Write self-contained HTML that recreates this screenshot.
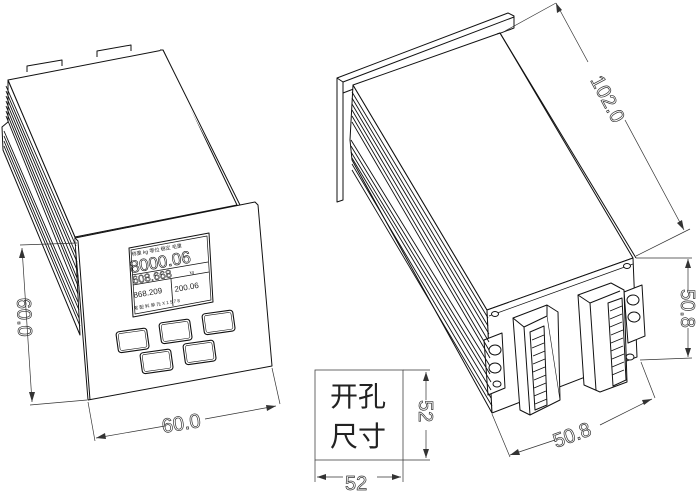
<!DOCTYPE html>
<html><head><meta charset="utf-8"><style>
html,body{margin:0;padding:0;background:#fff}
svg{display:block}
text{font-family:"Liberation Sans","Noto Sans CJK SC",sans-serif;fill:#222}
</style></head><body>
<svg width="697" height="492" viewBox="0 0 697 492" xmlns="http://www.w3.org/2000/svg">
<g fill="#fff" stroke="#111" stroke-width="1" stroke-linejoin="round">
<path d="M27,72 L27,66 L62,60 L62,66"/>
<path d="M97,57 L97,51 L131,45 L131,51"/>
<path d="M8,80 L75,237 L80,335 L3,150 L2,127 L8,122 Z"/>
<path d="M8,80 L163,50 L237,205 L75,237 Z"/>
<path d="M160,50 L163,50 L240,205"/>
<path d="M75,238 L255,202 L258,205 L272,366 L88,400 Z"/>
<path d="M75,238 L78,241 L90,400"/>
<path d="M129,248 L209,233 L213,302 L133,317 Z"/>
<path d="M131,250 L207,236 L211,300 L135,314 Z" stroke-width="0.7"/>
<path d="M132,275 L208,262" stroke-width="0.8"/>
<path d="M133,285 L209,272" stroke-width="0.8"/>
<path d="M171,279 L173,306" stroke-width="0.8"/>
<g stroke-width="1.1">
<rect x="117" y="330" width="31" height="21" rx="3" transform="rotate(-8 132 340)"/>
<rect x="160" y="321" width="31" height="21" rx="3" transform="rotate(-8 175 331)"/>
<rect x="203" y="312" width="31" height="21" rx="3" transform="rotate(-8 218 322)"/>
<rect x="141" y="351" width="31" height="21" rx="3" transform="rotate(-8 156 361)"/>
<rect x="184" y="342" width="31" height="21" rx="3" transform="rotate(-8 199 352)"/>
</g>
<g stroke-width="0.6" fill="none">
<rect x="119" y="332" width="27" height="17" rx="2" transform="rotate(-8 132 340)"/>
<rect x="162" y="323" width="27" height="17" rx="2" transform="rotate(-8 175 331)"/>
<rect x="205" y="314" width="27" height="17" rx="2" transform="rotate(-8 218 322)"/>
<rect x="143" y="353" width="27" height="17" rx="2" transform="rotate(-8 156 361)"/>
<rect x="186" y="344" width="27" height="17" rx="2" transform="rotate(-8 199 352)"/>
</g>

<!-- RIGHT DEVICE back plate -->
<path d="M337,78 L508,13 L514,16 L514,28 L343,93 L343,200 L337,202 Z"/>
<path d="M337,78 L343,82 L514,17" fill="none"/>
<path d="M343,82 L343,200" fill="none"/>
<path d="M353,85 L487,310 L492,413 L352,160 L350,140 Z"/>
<path d="M353,85 L500,33 L633,258 L487,310 Z"/>
<path d="M497,34 L500,33 L636,258" fill="none"/>
<path d="M487,310 L633,258 L637,357 L492,413 Z"/>
<path d="M489,316 L633,264" fill="none" stroke-width="0.7"/>
<ellipse cx="495" cy="314" rx="3.5" ry="2.5"/>
<ellipse cx="627" cy="266" rx="3.5" ry="2.5"/>
<path d="M484,340 L502,333 L505,388 L488,395 Z"/>
<ellipse cx="495" cy="350" rx="6" ry="5"/><ellipse cx="495" cy="368" rx="6" ry="5"/><ellipse cx="497" cy="384" rx="4" ry="3"/>
<path d="M624,292 L642,285 L645,336 L628,343 Z"/>
<ellipse cx="633" cy="300" rx="6" ry="5"/><ellipse cx="634" cy="317" rx="6" ry="5"/><ellipse cx="630" cy="357" rx="4" ry="3"/>
<path d="M513,318 L547,305 L558,312 L560,400 L530,415 L520,410 Z"/>
<path d="M513,318 L524,327 L547,316 L547,305" fill="none"/>
<path d="M524,327 L530,415" fill="none"/>
<path d="M547,316 L560,400" fill="none" stroke-width="0.6"/>
<path d="M530,332 L544,326 L547,405 L535,410 Z"/>
<path d="M578,295 L611,283 L624,290 L627,382 L600,392 L584,385 Z"/>
<path d="M578,295 L590,303 L620,291" fill="none"/>
<path d="M590,303 L596,390" fill="none"/>
<path d="M608,303 L622,298 L626,380 L613,386 Z"/>
</g>
<g stroke="#111" stroke-width="0.9" fill="none">
<path d="M6,86 L76,246 M6,91 L76,254 M6,96 L77,262 M6,101 L77,270 M6,106 L77,278 M6,111 L78,286 M6,116 L78,294 M4,131 L78,302 M4,136 L79,310 M4,141 L79,318 M4,146 L80,326"/>
<path d="M352,92 L488,318 M352,98 L488,326 M352,104 L489,334 M352,110 L489,342 M352,116 L489,350 M352,122 L490,358 M351,140 L490,366 M351,146 L490,374 M351,152 L491,382 M352,158 L491,390 M352,164 L491,398 M352,170 L492,406"/>
<path d="M532,340 L544,335 M532,348 L544,343 M533,356 L545,351 M533,364 L545,359 M533,372 L545,367 M534,380 L546,375 M534,388 L546,383 M534,396 L546,391 M535,404 L547,399"/>
<path d="M610,311 L622,306 M610,319 L622,314 M610,327 L622,322 M611,335 L623,330 M611,343 L623,338 M611,351 L623,346 M612,359 L624,354 M612,367 L624,362 M612,375 L624,370"/>
</g>
<text x="132" y="256" font-size="5" transform="rotate(-10 132 256)">称重 kg  零位  稳定  毛重</text>
<text x="131" y="273" font-size="17" style="fill:none" stroke="#111" stroke-width="0.6" transform="rotate(-10 131 273)">8000.06</text>
<text x="133" y="284" font-size="11" style="fill:none" stroke="#111" stroke-width="0.5" transform="rotate(-10 133 284)">608.668</text>
<text x="190" y="274" font-size="4" transform="rotate(-10 190 274)">kg</text>
<text x="134" y="298" font-size="8" transform="rotate(-10 134 298)">868.209</text>
<text x="175" y="292" font-size="8" transform="rotate(-10 175 292)">200.06</text>
<text x="134" y="310" font-size="4.5" transform="rotate(-10 134 310)">累 配 料 单 元 X 1 5 7 8</text>

<g stroke="#333" stroke-width="0.7" fill="none">
<path d="M20,245 L77,243 M30,405 L87,400 M22,248 L32,402"/>
<path d="M88,402 L95,441 M272,368 L280,404 M96,438 L165,426 M205,419 L276,406"/>
<path d="M505,31 L556,3 M636,256 L690,229 M556,3 L588,62 M625,120 L684,230"/>
<path d="M636,258 L692,258 M640,360 L692,358 M688,259 L688,290 M688,328 L688,357"/>
<path d="M492,414 L510,457 M641,362 L655,398 M510,455 L555,440 M600,425 L652,399"/>
<path d="M403,370 L430,370 M403,460 L430,460 M426,372 L426,400 M426,430 L426,458"/>
<path d="M315,460 L315,482 M403,460 L403,482 M317,477 L343,477 M377,477 L401,477"/>
</g>
<g fill="#333">
<path d="M22,248 L19,258 L25,258 Z"/><path d="M32,402 L29,392 L35,392 Z"/>
<path d="M96,438 L105,433 L106,439 Z"/><path d="M276,406 L266,405 L267,411 Z"/>
<path d="M556,3 L557,13 L562,10 Z"/><path d="M684,230 L682,220 L677,223 Z"/>
<path d="M688,259 L685,268 L691,268 Z"/><path d="M688,357 L685,348 L691,348 Z"/>
<path d="M510,455 L518,449 L520,455 Z"/><path d="M652,399 L642,400 L644,405 Z"/>
<path d="M426,372 L423,381 L429,381 Z"/><path d="M426,458 L423,449 L429,449 Z"/>
<path d="M317,477 L326,474 L326,480 Z"/><path d="M401,477 L392,474 L392,480 Z"/>
</g>
<g font-size="20" stroke="#333" stroke-width="0.7">
<text x="0" y="0" transform="translate(17,298) rotate(88)" style="fill:none">60.0</text>
<text x="0" y="0" transform="translate(163,433) rotate(-9)" style="fill:none">60.0</text>
<text x="0" y="0" transform="translate(590,80) rotate(62)" style="fill:none">102.0</text>
<text x="0" y="0" transform="translate(681,289) rotate(90)" style="fill:none">50.8</text>
<text x="0" y="0" transform="translate(556,448) rotate(-20)" style="fill:none">50.8</text>
<text x="0" y="0" transform="translate(419,400) rotate(90)" style="fill:none">52</text>
<text x="345" y="490" style="fill:none">52</text>
</g>
<rect x="315" y="370" width="88" height="90" fill="none" stroke="#444" stroke-width="0.8"/>
<text x="330" y="406" font-size="28" font-family="Noto Sans CJK SC">开孔</text>
<text x="330" y="446" font-size="28" font-family="Noto Sans CJK SC">尺寸</text>
</svg>
</body></html>
